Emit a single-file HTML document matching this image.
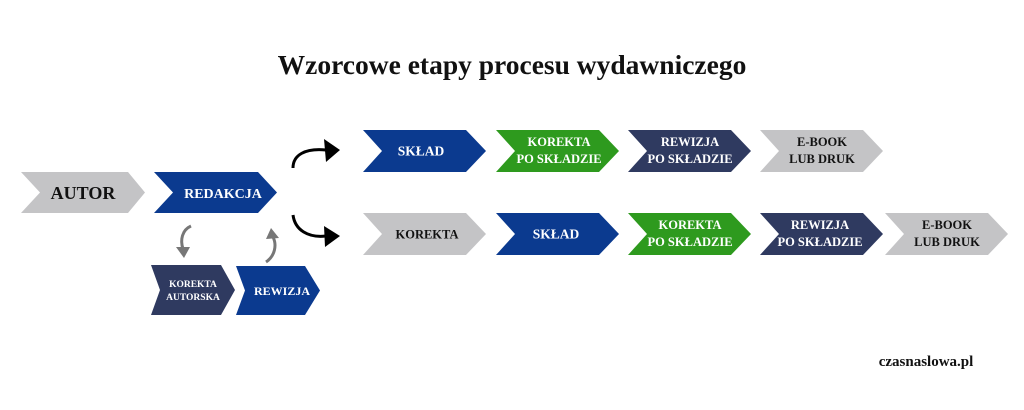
<!DOCTYPE html>
<html><head><meta charset="utf-8"><style>
html,body{margin:0;padding:0;background:#fff;}
svg{display:block;}
text{font-family:"Liberation Serif",serif;font-weight:bold;text-anchor:middle;}
</style></head><body>
<svg width="1024" height="410" viewBox="0 0 1024 410" xmlns="http://www.w3.org/2000/svg">
<text x="512" y="74" font-size="27.5" fill="#111">Wzorcowe etapy procesu wydawniczego</text>

<polygon points="21,172 128,172 145,192.5 128,213 21,213 40,192.5" fill="#c4c4c6"/>
<text x="83" y="199" font-size="18" fill="#111">AUTOR</text>
<polygon points="154,172 258,172 277,192.5 258,213 154,213 173,192.5" fill="#0b3a8f"/>
<text x="223" y="198" font-size="14" fill="#fff">REDAKCJA</text>

<polygon points="363,130 466,130 486,151 466,172 363,172 382,151" fill="#0b3a8f"/>
<text x="421" y="155.5" font-size="13.5" fill="#fff">SKŁAD</text>
<polygon points="496,130 599,130 619,151 599,172 496,172 515,151" fill="#2e9a1e"/>
<text x="559" y="146" font-size="12.5" fill="#fff">KOREKTA</text>
<text x="559" y="163" font-size="12.5" fill="#fff">PO SKŁADZIE</text>
<polygon points="628,130 731,130 751,151 731,172 628,172 647,151" fill="#2f3a60"/>
<text x="690" y="146" font-size="12.5" fill="#fff">REWIZJA</text>
<text x="690" y="163" font-size="12.5" fill="#fff">PO SKŁADZIE</text>
<polygon points="760,130 863,130 883,151 863,172 760,172 779,151" fill="#c4c4c6"/>
<text x="822" y="146" font-size="12.5" fill="#111">E-BOOK</text>
<text x="822" y="163" font-size="12.5" fill="#111">LUB DRUK</text>

<polygon points="363,213 466,213 486,234 466,255 363,255 382,234" fill="#c4c4c6"/>
<text x="427" y="238.5" font-size="12.5" fill="#111">KOREKTA</text>
<polygon points="496,213 599,213 619,234 599,255 496,255 515,234" fill="#0b3a8f"/>
<text x="556" y="238.5" font-size="13.5" fill="#fff">SKŁAD</text>
<polygon points="628,213 731,213 751,234 731,255 628,255 647,234" fill="#2e9a1e"/>
<text x="690" y="229" font-size="12.5" fill="#fff">KOREKTA</text>
<text x="690" y="246" font-size="12.5" fill="#fff">PO SKŁADZIE</text>
<polygon points="760,213 863,213 883,234 863,255 760,255 779,234" fill="#2f3a60"/>
<text x="820" y="229" font-size="12.5" fill="#fff">REWIZJA</text>
<text x="820" y="246" font-size="12.5" fill="#fff">PO SKŁADZIE</text>
<polygon points="885,213 988,213 1008,234 988,255 885,255 904,234" fill="#c4c4c6"/>
<text x="947" y="229" font-size="12.5" fill="#111">E-BOOK</text>
<text x="947" y="246" font-size="12.5" fill="#111">LUB DRUK</text>

<polygon points="151,265 221,265 235,290 221,315 151,315 160,290" fill="#2f3a60"/>
<text x="193" y="287" font-size="9.5" fill="#fff">KOREKTA</text>
<text x="193" y="300" font-size="9.5" fill="#fff">AUTORSKA</text>
<polygon points="236,266 305,266 320,290.5 305,315 236,315 245,290.5" fill="#0b3a8f"/>
<text x="282" y="295" font-size="12" fill="#fff">REWIZJA</text>

<path d="M293,168 C293,155 305,148 326,150" fill="none" stroke="#000" stroke-width="3"/>
<polygon points="324,139 340,150 326,162" fill="#000"/>
<path d="M293,215 C295,230 308,238 326,236" fill="none" stroke="#000" stroke-width="3"/>
<polygon points="324,226 340,236 325,247" fill="#000"/>

<path d="M191,226 C182,230 180,240 183,249" fill="none" stroke="#777" stroke-width="3"/>
<polygon points="176,247 190,247 184,258" fill="#777"/>
<path d="M266,262 C275,256 277,245 273,237" fill="none" stroke="#777" stroke-width="3"/>
<polygon points="266,239 279,238 271,228" fill="#777"/>

<text x="926" y="366" font-size="15" fill="#111">czasnaslowa.pl</text>
</svg>
</body></html>
